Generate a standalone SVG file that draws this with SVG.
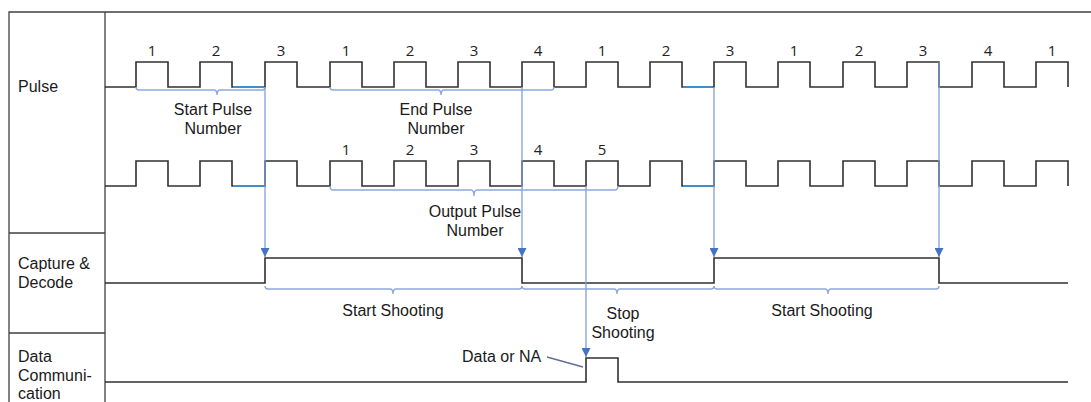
<svg xmlns="http://www.w3.org/2000/svg" width="1091" height="402" viewBox="0 0 1091 402">
<style>
.frame{fill:none;stroke:#404040;stroke-width:1.3}
.sig{fill:none;stroke:#303030;stroke-width:1.6;stroke-linejoin:miter}
.seg{fill:none;stroke:#3f8fd0;stroke-width:1.8}
.br{fill:none;stroke:#8ea8dc;stroke-width:1.4}
.conn{fill:none;stroke:#7f9fdc;stroke-width:1.3}
.lead{fill:none;stroke:#5d6f95;stroke-width:1.3}
.lbl{font-family:"Liberation Sans",Arial,sans-serif;font-size:16px;fill:#1a1a1a}
.num{font-family:"Open Sans","Liberation Sans",sans-serif;font-size:15px;fill:#222;text-anchor:middle}
.mid{text-anchor:middle}
</style>
<defs>
<marker id="arr" viewBox="0 0 10 10" refX="10" refY="5" markerWidth="9" markerHeight="9" markerUnits="userSpaceOnUse" orient="auto">
<path d="M0,0 L10,5 L0,10 Z" fill="#4472c4"/>
</marker>
</defs>
<rect width="1091" height="402" fill="#fff"/>
<g id="frame">
<path class="frame" d="M9,402 V12 H1091 M105,12 V402 M9,233 H105 M9,333 H105"/>
</g>
<g id="row-labels">
<text class="lbl" x="18" y="92">Pulse</text>
<text class="lbl" x="18" y="269">Capture &amp;</text>
<text class="lbl" x="18" y="288">Decode</text>
<text class="lbl" x="18" y="362">Data</text>
<text class="lbl" x="18" y="381">Communi-</text>
<text class="lbl" x="18" y="399">cation</text>
</g>
<g id="pulse-input">
<path class="sig" d="M105,87 H136 V62 H168 V87 H200 V62 H232 V87 H265 V62 H297 V87 H330 V62 H362 V87 H394 V62 H426 V87 H458 V62 H490 V87 H522 V62 H554 V87 H586 V62 H618 V87 H650 V62 H682 V87 H714 V62 H746 V87 H778 V62 H810 V87 H843 V62 H875 V87 H907 V62 H939 V87 H972 V62 H1004 V87 H1036 V62 H1068 V87"/>
<path class="seg" d="M233,87 H264 M683,87 H713"/>
<text class="num" x="152" y="56">1</text>
<text class="num" x="216" y="56">2</text>
<text class="num" x="281" y="56">3</text>
<text class="num" x="346" y="56">1</text>
<text class="num" x="410" y="56">2</text>
<text class="num" x="474" y="56">3</text>
<text class="num" x="538" y="56">4</text>
<text class="num" x="602" y="56">1</text>
<text class="num" x="666" y="56">2</text>
<text class="num" x="730" y="56">3</text>
<text class="num" x="794" y="56">1</text>
<text class="num" x="859" y="56">2</text>
<text class="num" x="923" y="56">3</text>
<text class="num" x="988" y="56">4</text>
<text class="num" x="1052" y="56">1</text>
</g>
<g id="start-pulse-number">
<path class="br" d="M136,87 Q136,90 139,90 H214 Q217,90 217,95 Q217,90 220,90 H262 Q265,90 265,87"/>
<text class="lbl mid" x="213" y="115">Start Pulse</text>
<text class="lbl mid" x="213" y="134">Number</text>
</g>
<g id="end-pulse-number">
<path class="br" d="M330,87 Q330,90 333,90 H438 Q441,90 441,95 Q441,90 444,90 H551 Q554,90 554,87"/>
<text class="lbl mid" x="436" y="115">End Pulse</text>
<text class="lbl mid" x="436" y="134">Number</text>
</g>
<g id="pulse-output">
<path class="sig" d="M105,186 H136 V161 H168 V186 H200 V161 H232 V186 H265 V161 H297 V186 H330 V161 H362 V186 H394 V161 H426 V186 H458 V161 H490 V186 H522 V161 H554 V186 H586 V161 H618 V186 H650 V161 H682 V186 H714 V161 H746 V186 H778 V161 H810 V186 H843 V161 H875 V186 H907 V161 H939 V186 H972 V161 H1004 V186 H1036 V161 H1068 V186"/>
<path class="seg" d="M233,186 H264 M683,186 H713"/>
<text class="num" x="346" y="155">1</text>
<text class="num" x="410" y="155">2</text>
<text class="num" x="474" y="155">3</text>
<text class="num" x="538" y="155">4</text>
<text class="num" x="602" y="155">5</text>
</g>
<g id="output-pulse-number">
<path class="br" d="M330,186 Q330,190 333,190 H471 Q474,190 474,196 Q474,190 477,190 H615 Q618,190 618,186"/>
<text class="lbl mid" x="475" y="217">Output Pulse</text>
<text class="lbl mid" x="475" y="236">Number</text>
</g>
<g id="capture-decode">
<path class="sig" d="M105,283 H265 V258 H522 V283 H714 V258 H939 V283 H1068"/>
</g>
<g id="shooting-brackets">
<path class="br" d="M265,286 Q265,289 268,289 H390 Q393,289 393,294 Q393,289 396,289 H519 Q522,289 522,286"/>
<path class="br" d="M522,286 Q522,289 525,289 H614 Q617,289 617,294 Q617,289 620,289 H711 Q714,289 714,286"/>
<path class="br" d="M714,286 Q714,289 717,289 H825 Q828,289 828,294 Q828,289 831,289 H936 Q939,289 939,286"/>
<text class="lbl mid" x="393" y="316">Start Shooting</text>
<text class="lbl mid" x="623" y="319">Stop</text>
<text class="lbl mid" x="623" y="338">Shooting</text>
<text class="lbl mid" x="822" y="316">Start Shooting</text>
</g>
<g id="data-communication">
<path class="sig" d="M105,382 H586 V358 H618 V382 H1068"/>
<path class="lead" d="M547,357 L583,367"/>
<text class="lbl" x="462" y="362">Data or NA</text>
</g>
<g id="connectors">
<path class="conn" d="M265,87 V257" marker-end="url(#arr)"/>
<path class="conn" d="M522,87 V257" marker-end="url(#arr)"/>
<path class="conn" d="M714,87 V257" marker-end="url(#arr)"/>
<path class="conn" d="M939,62 V257" marker-end="url(#arr)"/>
<path class="conn" d="M586,186 V357" marker-end="url(#arr)"/>
</g>
</svg>
